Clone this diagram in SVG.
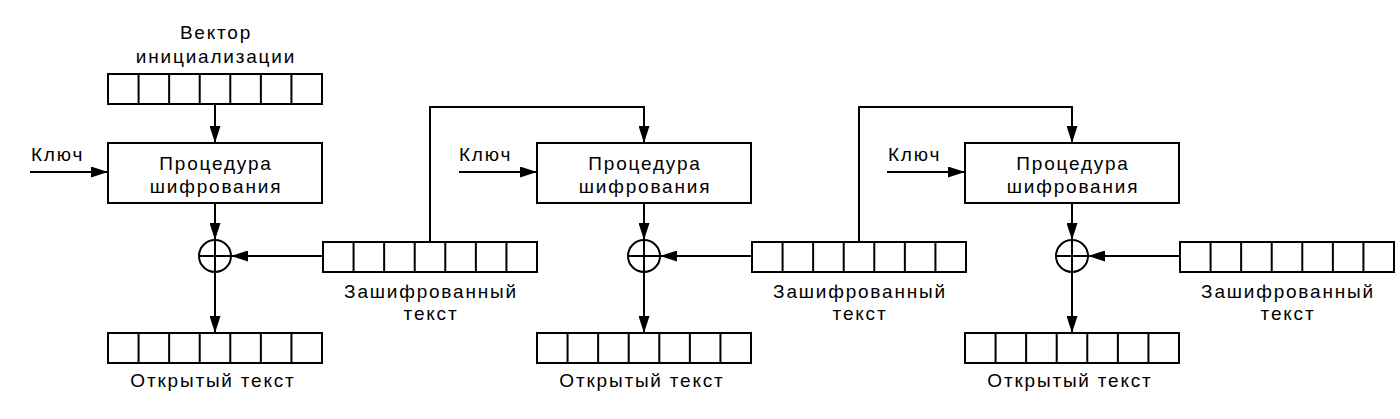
<svg xmlns="http://www.w3.org/2000/svg" xmlns:xlink="http://www.w3.org/1999/xlink" width="1400" height="419" viewBox="0 0 1400 419">
<style>
.ln{fill:none;stroke:#000;stroke-width:2}
.bx{fill:#fff;stroke:#000;stroke-width:2}
.t{font-family:"Liberation Sans",Arial,sans-serif;font-size:19px;fill:#000;text-anchor:middle;letter-spacing:1.8px}
.k{font-family:"Liberation Sans",Arial,sans-serif;font-size:19px;fill:#000;letter-spacing:1.8px}
</style>
<defs>
<marker id="ah" markerUnits="userSpaceOnUse" markerWidth="17" markerHeight="11" refX="17" refY="5.5" orient="auto">
<path d="M0,0 L17,5.5 L0,11 Z" fill="#000"/>
</marker>
<g id="reg">
<rect x="0" y="0" width="214" height="30" class="bx"/>
<path class="ln" d="M30.57,0V30M61.14,0V30M91.71,0V30M122.29,0V30M152.86,0V30M183.43,0V30"/>
</g>
<g id="xor">
<circle cx="0" cy="0" r="16" class="bx"/>
<path class="ln" d="M-16,0H16M0,-16V16"/>
</g>
</defs>
<rect width="1400" height="419" fill="#fff"/>

<g id="connectors">
<path class="ln" d="M30,172H108" marker-end="url(#ah)"/>
<path class="ln" d="M215,104V143" marker-end="url(#ah)"/>
<path class="ln" d="M215,203V240" marker-end="url(#ah)"/>
<path class="ln" d="M215,272V333" marker-end="url(#ah)"/>
<path class="ln" d="M323,256H231" marker-end="url(#ah)"/>

<path class="ln" d="M459,172H537" marker-end="url(#ah)"/>
<path class="ln" d="M430,242V107H644V143" marker-end="url(#ah)"/>
<path class="ln" d="M644,203V240" marker-end="url(#ah)"/>
<path class="ln" d="M644,272V333" marker-end="url(#ah)"/>
<path class="ln" d="M752,256H660" marker-end="url(#ah)"/>

<path class="ln" d="M887,172H965" marker-end="url(#ah)"/>
<path class="ln" d="M859,242V107H1072V143" marker-end="url(#ah)"/>
<path class="ln" d="M1072,203V240" marker-end="url(#ah)"/>
<path class="ln" d="M1072,272V333" marker-end="url(#ah)"/>
<path class="ln" d="M1180,256H1088" marker-end="url(#ah)"/>
</g>

<g id="iv">
<text class="t" x="216" y="39">Вектор</text>
<text class="t" x="216" y="63">инициализации</text>
<use xlink:href="#reg" x="108" y="74"/>
</g>

<g id="col1">
<text class="k" x="31" y="161">Ключ</text>
<rect id="enc1" x="108" y="143" width="214" height="60" class="bx"/>
<text class="t" x="216" y="169.5">Процедура</text>
<text class="t" x="216" y="193">шифрования</text>
<use xlink:href="#xor" x="215" y="256"/>
<use xlink:href="#reg" x="108" y="333"/>
<text class="t" x="213" y="387">Открытый текст</text>
</g>
<g id="ct1">
<use xlink:href="#reg" x="323" y="242"/>
<text class="t" x="431" y="298">Зашифрованный</text>
<text class="t" x="431" y="320">текст</text>
</g>

<g id="col2">
<text class="k" x="459" y="161">Ключ</text>
<rect id="enc2" x="537" y="143" width="214" height="60" class="bx"/>
<text class="t" x="645" y="169.5">Процедура</text>
<text class="t" x="645" y="193">шифрования</text>
<use xlink:href="#xor" x="644" y="256"/>
<use xlink:href="#reg" x="537" y="333"/>
<text class="t" x="642" y="387">Открытый текст</text>
</g>
<g id="ct2">
<use xlink:href="#reg" x="752" y="242"/>
<text class="t" x="860" y="298">Зашифрованный</text>
<text class="t" x="860" y="320">текст</text>
</g>

<g id="col3">
<text class="k" x="888" y="161">Ключ</text>
<rect id="enc3" x="965" y="143" width="214" height="60" class="bx"/>
<text class="t" x="1073" y="169.5">Процедура</text>
<text class="t" x="1073" y="193">шифрования</text>
<use xlink:href="#xor" x="1072" y="256"/>
<use xlink:href="#reg" x="965" y="333"/>
<text class="t" x="1070" y="387">Открытый текст</text>
</g>
<g id="ct3">
<use xlink:href="#reg" x="1180" y="242"/>
<text class="t" x="1288" y="298">Зашифрованный</text>
<text class="t" x="1288" y="320">текст</text>
</g>
</svg>
